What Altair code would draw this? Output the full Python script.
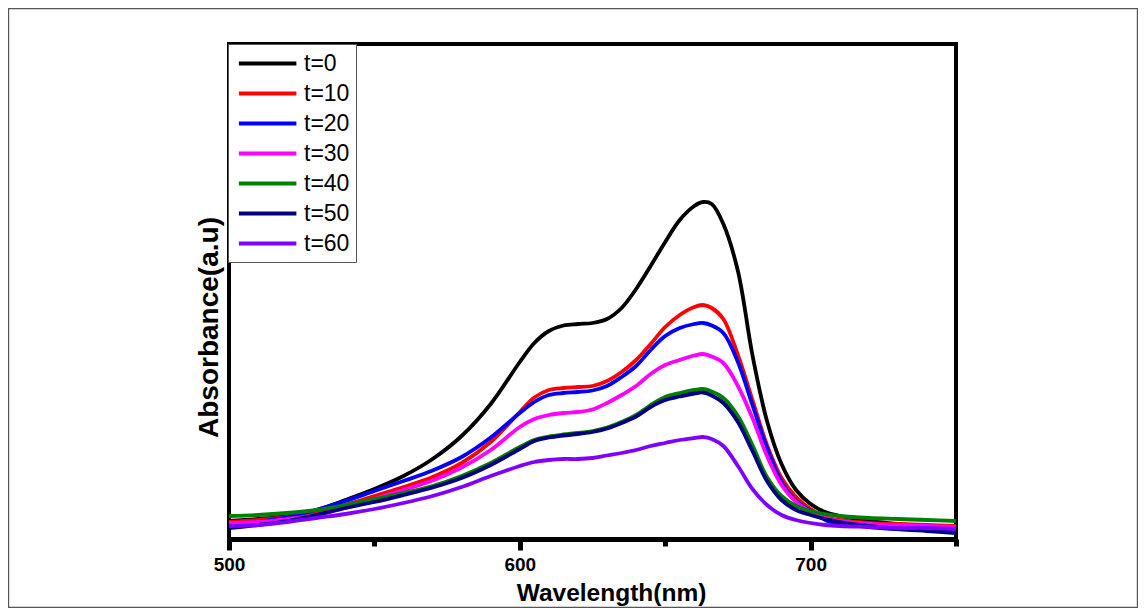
import altair as alt
import pandas as pd

wavelength = [500, 510, 520, 530, 540, 550, 560, 570, 580, 590, 600, 605, 610, 615, 620, 625, 630,
              635, 640, 645, 650, 655, 660, 663, 666, 670, 675, 680, 685, 690, 695, 700, 705, 710,
              720, 730, 740, 750]

t0 = [0.036, 0.040, 0.046, 0.058, 0.078, 0.100, 0.126, 0.160, 0.206, 0.270, 0.354, 0.392, 0.416,
      0.427, 0.430, 0.432, 0.440, 0.462, 0.500, 0.546, 0.594, 0.638, 0.666, 0.674, 0.670, 0.630,
      0.536, 0.368, 0.236, 0.150, 0.098, 0.070, 0.054, 0.046, 0.036, 0.030, 0.024, 0.018]
t10 = [0.034, 0.038, 0.044, 0.054, 0.068, 0.086, 0.104, 0.124, 0.152, 0.194, 0.254, 0.283, 0.298,
       0.302, 0.304, 0.306, 0.316, 0.334, 0.358, 0.390, 0.424, 0.448, 0.464, 0.468, 0.462, 0.440,
       0.368, 0.278, 0.188, 0.122, 0.084, 0.060, 0.044, 0.038, 0.032, 0.030, 0.028, 0.026]
t20 = [0.026, 0.034, 0.044, 0.058, 0.076, 0.096, 0.116, 0.137, 0.164, 0.203, 0.252, 0.274, 0.288,
       0.292, 0.294, 0.297, 0.306, 0.324, 0.346, 0.378, 0.406, 0.422, 0.430, 0.432, 0.427, 0.412,
       0.354, 0.268, 0.182, 0.114, 0.076, 0.056, 0.038, 0.030, 0.024, 0.020, 0.018, 0.016]
t30 = [0.032, 0.034, 0.040, 0.048, 0.062, 0.080, 0.098, 0.117, 0.143, 0.178, 0.224, 0.240, 0.248,
       0.252, 0.254, 0.259, 0.272, 0.288, 0.306, 0.330, 0.348, 0.358, 0.367, 0.370, 0.365, 0.352,
       0.306, 0.242, 0.166, 0.108, 0.074, 0.054, 0.042, 0.036, 0.030, 0.028, 0.026, 0.024]
t40 = [0.046, 0.048, 0.052, 0.058, 0.068, 0.080, 0.092, 0.106, 0.126, 0.152, 0.184, 0.198, 0.205,
       0.209, 0.212, 0.216, 0.223, 0.234, 0.248, 0.268, 0.284, 0.292, 0.298, 0.300, 0.295, 0.282,
       0.246, 0.188, 0.124, 0.086, 0.066, 0.056, 0.050, 0.046, 0.042, 0.040, 0.038, 0.036]
t50 = [0.022, 0.028, 0.036, 0.048, 0.062, 0.074, 0.088, 0.103, 0.122, 0.148, 0.180, 0.196, 0.203,
       0.207, 0.210, 0.214, 0.221, 0.232, 0.245, 0.264, 0.278, 0.285, 0.291, 0.293, 0.287, 0.272,
       0.234, 0.176, 0.116, 0.078, 0.058, 0.048, 0.040, 0.034, 0.026, 0.020, 0.016, 0.012]
t60 = [0.026, 0.028, 0.034, 0.042, 0.050, 0.060, 0.072, 0.086, 0.104, 0.126, 0.146, 0.154, 0.158,
       0.160, 0.160, 0.162, 0.167, 0.172, 0.178, 0.186, 0.192, 0.198, 0.202, 0.204, 0.200, 0.186,
       0.146, 0.100, 0.068, 0.048, 0.038, 0.032, 0.028, 0.026, 0.024, 0.022, 0.022, 0.020]

series_names = ["t=0", "t=10", "t=20", "t=30", "t=40", "t=50", "t=60"]
series_values = [t0, t10, t20, t30, t40, t50, t60]
series_colors = ["#000000", "#ff0000", "#0000ff", "#ff00ff", "#008000", "#000080", "#8000ff"]

x_tick_values = [500, 550, 600, 650, 700, 750]

rows = []
for i, (name, vals) in enumerate(zip(series_names, series_values)):
    assert len(vals) == len(wavelength)
    for w, v in zip(wavelength, vals):
        rows.append({"wavelength": w, "absorbance": v, "series": name, "order": i})
df = pd.DataFrame(rows)

FONT = "Liberation Sans"

lines = alt.Chart(df).mark_line(strokeWidth=3.8, interpolate="catmull-rom").encode(
    x=alt.X("wavelength:Q",
            scale=alt.Scale(domain=[500, 750], nice=False, zero=False),
            axis=alt.Axis(values=x_tick_values,
                          labelExpr="datum.value % 100 === 0 ? datum.label : ''",
                          grid=False, domainColor="black", domainWidth=5,
                          tickColor="black", tickWidth=5,
                          tickSize={"condition": {"test": "datum.value % 100 !== 0", "value": 7},
                                    "value": 11},
                          labelFont=FONT, labelFontSize=19, labelFontWeight="bold",
                          labelColor="black", labelFlush=False, labelOverlap=False,
                          labelBaseline="alphabetic", labelPadding=20,
                          title="Wavelength(nm)", titleFont=FONT, titleFontSize=24.5,
                          titleFontWeight="bold", titleColor="black",
                          titleX=382, titleY=61, titleBaseline="alphabetic",
                          titleAlign="center")),
    y=alt.Y("absorbance:Q",
            scale=alt.Scale(domain=[0, 0.99], nice=False, zero=False),
            axis=alt.Axis(labels=False, ticks=False, domain=False, grid=False,
                          title="Absorbance(a.u)", titleFont=FONT, titleFontSize=28,
                          titleFontWeight="bold", titleColor="black",
                          titleX=-20, titleY=283, titleAngle=270,
                          titleAlign="center", titleBaseline="middle")),
    color=alt.Color("series:N",
                    scale=alt.Scale(domain=series_names, range=series_colors),
                    sort=series_names,
                    legend=alt.Legend(orient="none", legendX=-1, legendY=0, title=None,
                                      symbolType="M-0.75,0H4.25", symbolSize=529,
                                      symbolStrokeWidth=4, labelFont=FONT,
                                      labelFontSize=23, labelColor="black",
                                      labelOffset=43, padding=6, rowPadding=4,
                                      strokeColor="#555555", fillColor="white")),
    order=alt.Order("order:Q"),
)

border = alt.Chart(pd.DataFrame({"k": [0]})).mark_rect(
    fillOpacity=0, stroke="#555555", strokeWidth=1.2
).encode(
    x=alt.value(-220.4), x2=alt.value(908.4), y=alt.value(-35.4), y2=alt.value(563.4)
)

chart = alt.layer(lines, border).properties(
    width=727, height=495,
    autosize=alt.AutoSizeParams(type="none"),
    padding={"left": 221, "top": 36, "right": 182, "bottom": 69},
).configure(background="white").configure_view(stroke="black", strokeWidth=4)

chart.save("out.html", embed_options={"renderer": "svg", "actions": False})
